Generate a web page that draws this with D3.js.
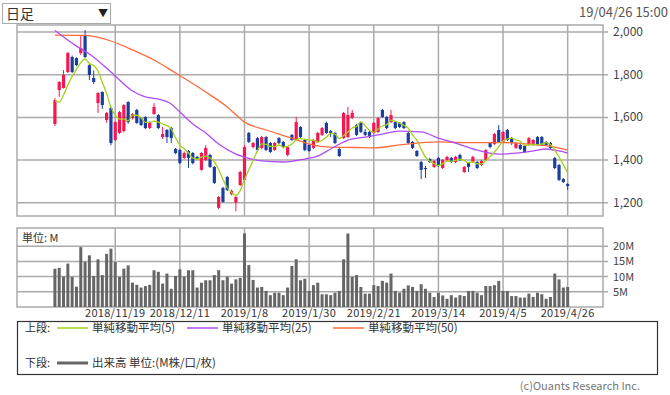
<!DOCTYPE html>
<html>
<head>
<meta charset="utf-8">
<script src="https://cdn.jsdelivr.net/npm/d3@7"></script>
<style>
  body { margin: 0; background: #fff; }
  text { font-family: "Noto Sans CJK JP", "Noto Sans", sans-serif; }
</style>
</head>
<body>
<div id="chart"></div>
<script>

// daily candles, oldest first (price)
var opens  = [1569,1728,1738,1813,1883,1878,1902,1986,1845,1785,1667,1719,1588,1644,1494,1527,1536,1672,1597,1635,
              1597,1602,1550,1616,1611,1508,1541,1550,1452,1447,1410,1443,1433,1415,1354,1400,1424,1368,1176,1269,
              1321,1240,1200,1283,1307,1527,1461,1503,1457,1508,1480,1447,1503,1485,1424,1518,1494,1555,1494,1471,
              1457,1485,1518,1574,1536,1527,1452,1503,1508,1597,1564,1574,1532,1532,1527,1532,1635,1602,1578,1578,
              1574,1578,1527,1485,1443,1391,1363,1405,1368,1410,1363,1400,1410,1391,1424,1344,1386,1391,1391,1377,
              1400,1480,1475,1541,1485,1541,1503,1457,1471,1466,1475,1471,1508,1508,1485,1480,1410,1377,1311,1288];
var highs  = [1690,1770,1822,1906,1890,1882,1986,2010,1850,1820,1718,1722,1625,1650,1582,1630,1662,1676,1620,1640,
              1600,1606,1582,1667,1616,1555,1545,1555,1457,1452,1440,1447,1438,1420,1438,1470,1430,1372,1232,1275,
              1326,1262,1232,1350,1470,1532,1485,1508,1513,1512,1485,1485,1508,1490,1466,1522,1602,1560,1499,1475,
              1499,1532,1555,1580,1541,1532,1457,1625,1649,1635,1568,1578,1545,1536,1578,1602,1640,1606,1635,1582,
              1578,1582,1532,1490,1447,1396,1372,1410,1400,1415,1405,1420,1415,1420,1430,1372,1390,1420,1396,1400,
              1452,1485,1527,1564,1536,1546,1508,1485,1475,1471,1508,1499,1513,1513,1489,1485,1415,1382,1316,1293];
var lows   = [1560,1696,1735,1808,1808,1840,1892,1878,1775,1757,1621,1640,1575,1470,1490,1522,1530,1570,1590,1570,
              1560,1545,1545,1612,1545,1499,1480,1480,1428,1382,1405,1363,1380,1400,1350,1396,1363,1288,1170,1200,
              1255,1235,1160,1278,1300,1480,1455,1440,1450,1442,1433,1443,1475,1455,1418,1490,1490,1500,1442,1438,
              1452,1480,1513,1522,1508,1475,1415,1499,1503,1592,1513,1527,1513,1503,1522,1527,1597,1545,1574,1545,
              1550,1545,1475,1452,1415,1311,1316,1386,1363,1368,1358,1396,1386,1386,1396,1340,1344,1386,1358,1372,
              1396,1455,1471,1480,1480,1489,1471,1452,1447,1433,1471,1466,1466,1466,1466,1452,1358,1302,1293,1260];
var closes = [1681,1766,1799,1902,1813,1845,1925,1883,1799,1766,1714,1658,1621,1480,1578,1625,1658,1578,1616,1574,
              1564,1550,1578,1649,1550,1522,1508,1503,1433,1386,1433,1410,1386,1405,1433,1457,1368,1293,1227,1204,
              1260,1255,1227,1344,1461,1485,1480,1447,1508,1447,1438,1480,1480,1461,1461,1494,1578,1508,1447,1443,
              1494,1527,1550,1527,1527,1480,1419,1621,1611,1621,1518,1532,1518,1508,1574,1597,1602,1550,1611,1550,
              1555,1550,1480,1457,1419,1354,1358,1391,1396,1372,1400,1415,1391,1415,1400,1368,1368,1415,1363,1396,
              1447,1461,1522,1485,1532,1494,1480,1480,1452,1438,1503,1494,1471,1471,1471,1457,1363,1307,1297,1279];
// volume (M)
var volumes = [12.6,12.9,10.0,14.3,9.9,6.7,19.7,14.9,17.0,10.2,15.7,10.5,17.5,19.2,14.8,9.9,12.6,13.7,8.0,7.3,
               6.4,6.9,7.3,12.1,11.6,7.7,11.0,6.0,10.2,12.4,10.0,12.1,12.1,6.4,8.0,8.8,8.8,10.5,12.1,8.8,
               10.0,7.7,9.1,9.6,24.2,13.8,8.9,6.4,6.6,5.3,3.9,4.7,4.7,3.9,6.4,13.5,15.7,8.8,9.3,5.3,
               7.2,8.0,4.2,4.2,3.9,4.7,5.3,15.7,24.2,9.9,10.5,6.6,4.4,4.4,7.2,6.9,8.6,8.0,11.0,5.3,
               4.7,6.0,7.1,6.6,5.3,7.5,6.0,4.7,3.3,4.7,3.8,2.7,3.9,3.1,3.9,3.6,5.3,5.3,4.7,3.9,
               6.9,6.9,7.2,8.6,5.3,5.3,3.6,3.6,3.1,3.1,4.4,3.3,4.7,4.2,2.7,3.3,11.0,9.1,6.4,6.6];

// moving averages (earlier days are not shown)
var ma5Head = [1677,1672,1705,1752];
var ma25Idx = [0,5,8,13,18,21,24,27,29,32,35,38,42,44,48,53,58,61,64,68,72,76,80,85,89,93,98,103,107,111,114,117,119];
var ma25Val = [2007,1934,1897,1813,1724,1696,1686,1663,1625,1569,1527,1475,1428,1414,1396,1391,1405,1419,1452,1494,
               1508,1522,1536,1532,1503,1480,1447,1428,1433,1443,1452,1443,1433];
var ma50Idx = [0,7,13,18,23,28,35,40,44,49,55,59,64,70,74,80,89,95,104,110,116,119];
var ma50Val = [1986,1984,1958,1916,1869,1808,1719,1649,1578,1541,1503,1475,1461,1459,1457,1471,1485,1482,1482,1475,1461,1447];

var tickIdx    = [14,29,44,59,74,89,104,119];
var tickLabels = ["2018/11/19","2018/12/11","2019/1/8","2019/1/30","2019/2/21","2019/3/14","2019/4/5","2019/4/26"];
var priceTicks = [1200,1400,1600,1800,2000];
var volTicks   = [5,10,15,20];

var W = 670, H = 395;
var left = 17, right = 603;
var pTop = 25, pBot = 216;
var vTop = 228, vBot = 307;

var upColor = "#f5174f", downColor = "#1c3f9e";
var gridColor = "#ababab";

var svg = d3.select("#chart").append("svg")
    .attr("width", W)
    .attr("height", H);

var x = d3.scaleLinear().domain([-8.8, 127.2]).range([left, right]);
var y = d3.scaleLinear().domain([1138, 2033]).range([pBot, pTop]);
var yv = d3.scaleLinear().domain([0, 26]).range([vBot, vTop]);

// moving average 5 from closes
var ma5 = closes.map(function(c, i) {
  if (i < 4) return ma5Head[i];
  return d3.mean(closes.slice(i - 4, i + 1));
});

// ---- price panel ----
var pg = svg.append("g");

pg.selectAll(".hgrid")
  .data(priceTicks)
  .enter().append("line")
    .attr("x1", left).attr("x2", right + 5)
    .attr("y1", function(d) { return y(d); })
    .attr("y2", function(d) { return y(d); })
    .attr("stroke", gridColor).attr("stroke-width", 1.5);

pg.selectAll(".vgrid")
  .data(tickIdx)
  .enter().append("line")
    .attr("x1", function(d) { return x(d); })
    .attr("x2", function(d) { return x(d); })
    .attr("y1", pTop).attr("y2", pBot)
    .attr("stroke", gridColor).attr("stroke-width", 1.5);

pg.append("rect")
  .attr("x", left).attr("y", pTop)
  .attr("width", right - left).attr("height", pBot - pTop)
  .attr("fill", "none").attr("stroke", gridColor).attr("stroke-width", 1.5);

pg.selectAll(".plab")
  .data(priceTicks)
  .enter().append("text")
    .attr("x", 613)
    .attr("y", function(d) { return y(d) + 4; })
    .attr("font-size", 12)
    .attr("fill", "#444")
    .text(d3.format(","));

// candles
var idx = d3.range(closes.length);
pg.selectAll(".wick")
  .data(idx)
  .enter().append("line")
    .attr("x1", function(i) { return x(i); })
    .attr("x2", function(i) { return x(i); })
    .attr("y1", function(i) { return y(highs[i]); })
    .attr("y2", function(i) { return y(lows[i]); })
    .attr("stroke", function(i) { return closes[i] >= opens[i] ? upColor : downColor; })
    .attr("stroke-width", 1);

pg.selectAll(".body")
  .data(idx)
  .enter().append("rect")
    .attr("x", function(i) { return x(i) - 1.6; })
    .attr("width", 3.2)
    .attr("y", function(i) { return y(Math.max(opens[i], closes[i])); })
    .attr("height", function(i) { return Math.max(1, Math.abs(y(opens[i]) - y(closes[i]))); })
    .attr("fill", function(i) { return closes[i] >= opens[i] ? upColor : downColor; });

// moving average lines
var line = d3.line().curve(d3.curveMonotoneX);
function maPath(ids, vals, color) {
  pg.append("path")
    .attr("d", line(ids.map(function(i, k) { return [x(i), y(vals[k])]; })))
    .attr("fill", "none")
    .attr("stroke", color)
    .attr("stroke-width", 1.3);
}
maPath(ma50Idx, ma50Val, "#ff6a3d");
maPath(ma25Idx, ma25Val, "#b04cf5");
maPath(idx, ma5, "#a3d11a");

// ---- volume panel ----
var vg = svg.append("g");

vg.selectAll(".vhgrid")
  .data(volTicks)
  .enter().append("line")
    .attr("x1", left).attr("x2", right + 5)
    .attr("y1", function(d) { return yv(d); })
    .attr("y2", function(d) { return yv(d); })
    .attr("stroke", gridColor).attr("stroke-width", 1.5);

vg.selectAll(".vvgrid")
  .data(tickIdx)
  .enter().append("line")
    .attr("x1", function(d) { return x(d); })
    .attr("x2", function(d) { return x(d); })
    .attr("y1", vTop).attr("y2", vBot)
    .attr("stroke", gridColor).attr("stroke-width", 1.5);

vg.append("rect")
  .attr("x", left).attr("y", vTop)
  .attr("width", right - left).attr("height", vBot - vTop)
  .attr("fill", "none").attr("stroke", gridColor).attr("stroke-width", 1.5);

vg.selectAll(".vbar")
  .data(idx)
  .enter().append("rect")
    .attr("x", function(i) { return x(i) - 1.5; })
    .attr("width", 3)
    .attr("y", function(i) { return yv(volumes[i]); })
    .attr("height", function(i) { return vBot - yv(volumes[i]); })
    .attr("fill", "#666");

vg.selectAll(".vlab")
  .data(volTicks)
  .enter().append("text")
    .attr("x", 613)
    .attr("y", function(d) { return yv(d) + 4; })
    .attr("font-size", 11)
    .attr("fill", "#444")
    .text(function(d) { return d + "M"; });

vg.append("text")
  .attr("x", 22).attr("y", 242)
  .attr("font-size", 11).attr("fill", "#333")
  .text("単位: M");

// date labels
svg.selectAll(".xlab")
  .data(tickIdx)
  .enter().append("text")
    .attr("x", function(d) { return x(d); })
    .attr("y", 317)
    .attr("text-anchor", "middle")
    .attr("font-size", 11)
    .attr("letter-spacing", 0.3)
    .attr("fill", "#333")
    .text(function(d, k) { return tickLabels[k]; });

// ---- header ----
svg.append("rect")
  .attr("x", 2.5).attr("y", 3.5).attr("width", 108).attr("height", 20)
  .attr("fill", "#fff").attr("stroke", "#aaa");
svg.append("text")
  .attr("x", 6).attr("y", 19)
  .attr("font-size", 14).attr("fill", "#333")
  .text("日足");
svg.append("text")
  .attr("x", 98).attr("y", 17)
  .attr("font-size", 10).attr("fill", "#222")
  .text("▼");
svg.append("text")
  .attr("x", 579).attr("y", 17)
  .attr("font-size", 13).attr("fill", "#555")
  .text("19/04/26 15:00");

// ---- legend ----
var lg = svg.append("g");
lg.append("rect")
  .attr("x", 17.5).attr("y", 321.5).attr("width", 640).attr("height", 53)
  .attr("fill", "#fff").attr("stroke", "#333").attr("stroke-width", 1.2);

var legItems = [
  {x: 57, color: "#a3d11a", label: "単純移動平均(5)"},
  {x: 187, color: "#b04cf5", label: "単純移動平均(25)"},
  {x: 333, color: "#ff6a3d", label: "単純移動平均(50)"}
];
lg.append("text").attr("x", 25).attr("y", 332).attr("font-size", 11).attr("fill", "#333").text("上段:");
legItems.forEach(function(d) {
  lg.append("line")
    .attr("x1", d.x).attr("x2", d.x + 31)
    .attr("y1", 328).attr("y2", 328)
    .attr("stroke", d.color).attr("stroke-width", 1.5);
  lg.append("text")
    .attr("x", d.x + 35).attr("y", 332)
    .attr("font-size", 11.5).attr("fill", "#333")
    .text(d.label);
});
lg.append("text").attr("x", 25).attr("y", 367).attr("font-size", 11).attr("fill", "#333").text("下段:");
lg.append("line")
  .attr("x1", 57).attr("x2", 88).attr("y1", 363).attr("y2", 363)
  .attr("stroke", "#666").attr("stroke-width", 3);
lg.append("text")
  .attr("x", 92).attr("y", 367)
  .attr("font-size", 11.5).attr("fill", "#333")
  .text("出来高 単位:(M株/口/枚)");

svg.append("text")
  .attr("x", 640).attr("y", 390)
  .attr("text-anchor", "end")
  .attr("font-size", 11).attr("fill", "#777")
  .text("(c)Ouants Research Inc.");

</script>
</body>
</html>
